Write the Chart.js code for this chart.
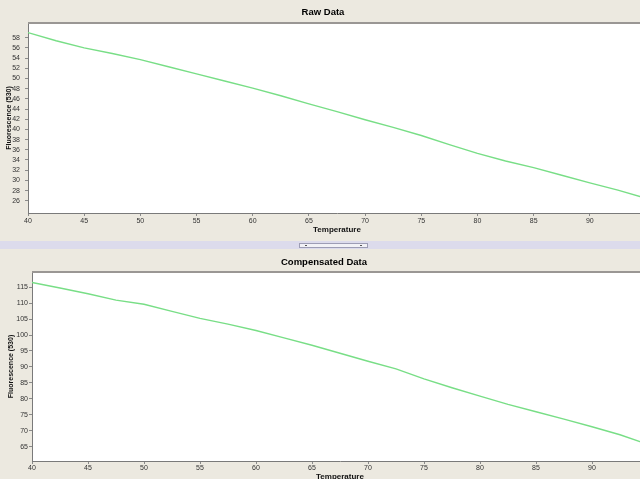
<!DOCTYPE html>
<html><head><meta charset="utf-8">
<script src="https://cdn.jsdelivr.net/npm/chart.js@4/dist/chart.umd.min.js"></script>
<style>
html,body{margin:0;padding:0;width:640px;height:479px;overflow:hidden;background:#ece9e0;position:relative;}
#c1{position:absolute;left:0;top:0;}
#c2{position:absolute;left:0;top:249px;}
#band{position:absolute;left:0;top:241px;width:640px;height:8px;background:#dcdbec;}
#handle{position:absolute;left:299px;top:243px;width:67px;height:3px;background:#f1f1f6;border:1px solid #9d9db5;}
#handle span{position:absolute;top:1px;width:2px;height:1px;background:#555;}
</style></head><body>
<canvas id="c1" width="656" height="240"></canvas>
<div id="band"></div>
<div id="handle"><span style="left:5px"></span><span style="left:60px"></span></div>
<canvas id="c2" width="656" height="240"></canvas>
<script>
const temperatures = [40,42.5,45,47.5,50,52.5,55,57.5,60,62.5,65,67.5,70,72.5,75,77.5,80,82.5,85,87.5,90,92.5,95];
const rawValues = [59.0,57.4,56.0,54.9,53.7,52.3,50.9,49.5,48.1,46.6,45.0,43.5,41.9,40.4,38.8,37.0,35.3,33.8,32.5,31.0,29.5,28.1,26.5];
const compValues = [116.4,114.7,112.9,110.9,109.6,107.4,105.2,103.4,101.4,99.1,96.8,94.3,91.8,89.4,86.3,83.5,80.9,78.3,76.0,73.7,71.3,68.8,65.8];
const xTickValues = [40,45,50,55,60,65,70,75,80,85,90];
const rawTickValues = [26,28,30,32,34,36,38,40,42,44,46,48,50,52,54,56,58];
const compTickValues = [65,70,75,80,85,90,95,100,105,110,115];

const FAM = "'Liberation Sans', Arial, sans-serif";

const framePlugin = {
  id: 'frame',
  beforeDraw(chart) {
    const a = chart.chartArea, ctx = chart.ctx;
    ctx.save();
    ctx.fillStyle = '#ffffff';
    ctx.fillRect(a.left, a.top, a.right - a.left, a.bottom - a.top);
    ctx.restore();
  },
  afterDraw(chart) {
    const a = chart.chartArea, ctx = chart.ctx;
    ctx.save();
    ctx.strokeStyle = '#9a9794';
    ctx.lineWidth = 2;
    ctx.beginPath();
    ctx.moveTo(a.left, a.top);
    ctx.lineTo(a.right, a.top);
    ctx.stroke();
    ctx.restore();
  }
};

function makeChart(id, titleText, values, yTicks, yMin, yMax, L) {
  return new Chart(document.getElementById(id), {
    type: 'line',
    data: {
      datasets: [{
        data: temperatures.map((t, i) => ({x: t, y: values[i]})),
        borderColor: '#78de86',
        borderWidth: 1.4,
        pointRadius: 0,
        tension: 0,
        fill: false
      }]
    },
    options: {
      responsive: false,
      animation: false,
      devicePixelRatio: 1,
      layout: {padding: {left: 0, right: L.padRight, top: 0, bottom: 0}},
      plugins: {
        legend: {display: false},
        tooltip: {enabled: false},
        title: {
          display: true, text: titleText, color: '#000',
          font: {family: FAM, size: 9.5, weight: 'bold', lineHeight: 1.2},
          padding: {top: L.titleTop, bottom: L.titleBottom}
        }
      },
      scales: {
        x: {
          type: 'linear', min: 40, max: 95,
          afterBuildTicks: s => { s.ticks = xTickValues.map(v => ({value: v})); },
          afterFit: s => { s.height = L.xHeight; },
          ticks: {font: {family: FAM, size: 7}, color: '#333', padding: L.xTickPad, maxRotation: 0, autoSkip: false},
          grid: {drawOnChartArea: false, tickLength: 3, color: '#8a8a8a'},
          border: {color: '#7a7a7a', width: 1},
          title: {display: true, text: 'Temperature', color: '#111',
            font: {family: FAM, size: 8, weight: 'bold', lineHeight: 1.2},
            padding: {top: 0, bottom: L.xTitleBottom}}
        },
        y: {
          type: 'linear', min: yMin, max: yMax,
          afterBuildTicks: s => { s.ticks = yTicks.map(v => ({value: v})); },
          afterFit: s => { s.width = L.yWidth; },
          ticks: {font: {family: FAM, size: 7}, color: '#333', padding: L.yTickPad, autoSkip: false},
          grid: {drawOnChartArea: false, tickLength: 3, color: '#8a8a8a'},
          border: {color: '#7a7a7a', width: 1},
          title: {display: true, text: 'Fluorescence (530)', color: '#111',
            font: {family: FAM, size: 7, weight: 'bold', lineHeight: 1.2},
            padding: {top: L.yTitleTop, bottom: 0}}
        }
      }
    },
    plugins: [framePlugin]
  });
}

makeChart('c1', 'Raw Data', rawValues, rawTickValues, 23.6, 60.9, {
  padRight: 10, titleTop: 6.5, titleBottom: 5, xHeight: 27, xTickPad: 1,
  xTitleBottom: 5.6, yWidth: 28, yTickPad: 5, yTitleTop: 4.8
});
makeChart('c2', 'Compensated Data', compValues, compTickValues, 60.6, 119.7, {
  padRight: 8, titleTop: 7.3, titleBottom: 4.3, xHeight: 28, xTickPad: 0,
  xTitleBottom: 7.2, yWidth: 32, yTickPad: 1, yTitleTop: 6.6
});
</script>
</body></html>
